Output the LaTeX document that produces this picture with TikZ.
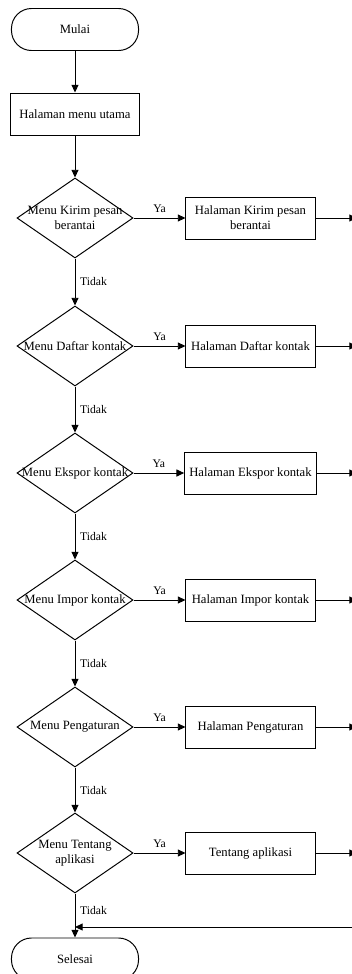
\documentclass[tikz,border=0pt]{standalone}
\usepackage{fontspec}
\setmainfont{Liberation Serif}
\usetikzlibrary{shapes.geometric,arrows.meta}

\begin{document}
\begin{tikzpicture}[x=0.025cm,y=-0.025cm,line width=0.7pt,font=\fontsize{9}{10.5}\selectfont,
	terminal/.style={draw,rounded corners=0.5cm,minimum width=3.175cm,minimum height=1.05cm},
	proses/.style={draw,minimum width=3.225cm,minimum height=1.05cm,align=center},
	keputusan/.style={draw,diamond,minimum width=2.9cm,minimum height=2cm,inner sep=0pt},
	panah/.style={-{Triangle[length=5.5pt,width=5pt]}},
	ket/.style={font=\fontsize{8.3}{10}\selectfont}]
	\useasboundingbox (0,0) rectangle (352,974);

	\node [terminal](mulai) at (75,29.5) {Mulai};
	\node [proses,minimum width=3.2cm](menu) at (75,114) {Halaman menu utama};
	\node [keputusan,label={[align=center]center:Menu Kirim pesan\\berantai}](d1) at (75,218) {};
	\node [keputusan,label=center:Menu Daftar kontak](d2) at (75,346) {};
	\node [keputusan,label=center:Menu Ekspor kontak](d3) at (75,473) {};
	\node [keputusan,label=center:Menu Impor kontak](d4) at (75,600) {};
	\node [keputusan,label=center:Menu Pengaturan](d5) at (75,727) {};
	\node [keputusan,label={[align=center]center:Menu Tentang\\aplikasi}](d6) at (75,853) {};
	\node [proses](h1) at (250.5,218) {Halaman Kirim pesan\\berantai};
	\node [proses](h2) at (250.5,346) {Halaman Daftar kontak};
	\node [proses](h3) at (250.5,473) {Halaman Ekspor kontak};
	\node [proses](h4) at (250.5,600) {Halaman Impor kontak};
	\node [proses](h5) at (250.5,727) {Halaman Pengaturan};
	\node [proses](h6) at (250.5,853) {Tentang aplikasi};
	\node [terminal](selesai) at (75,959) {Selesai};
	\coordinate (kanan) at (357,0);
	\coordinate (balik) at (360,927);
	\coordinate (gabung) at (75,927);

	\draw [panah] (mulai) -- (menu);
	\draw [panah] (menu) -- (d1);
	\draw [panah] (d1) -- (h1) node [midway,above,ket] {Ya};
	\draw [panah] (d2) -- (h2) node [midway,above,ket] {Ya};
	\draw [panah] (d3) -- (h3) node [midway,above,ket] {Ya};
	\draw [panah] (d4) -- (h4) node [midway,above,ket] {Ya};
	\draw [panah] (d5) -- (h5) node [midway,above,ket] {Ya};
	\draw [panah] (d6) -- (h6) node [midway,above,ket] {Ya};
	\draw [panah] (d1) -- (d2) node [midway,right,ket] {Tidak};
	\draw [panah] (d2) -- (d3) node [midway,right,ket] {Tidak};
	\draw [panah] (d3) -- (d4) node [midway,right,ket] {Tidak};
	\draw [panah] (d4) -- (d5) node [midway,right,ket] {Tidak};
	\draw [panah] (d5) -- (d6) node [midway,right,ket] {Tidak};
	\draw (d6) -- (gabung) node [midway,right,ket] {Tidak};
	\draw [panah] (gabung) -- (selesai);
	\draw [panah] (h1) -- (h1 -| kanan);
	\draw [panah] (h2) -- (h2 -| kanan);
	\draw [panah] (h3) -- (h3 -| kanan);
	\draw [panah] (h4) -- (h4 -| kanan);
	\draw [panah] (h5) -- (h5 -| kanan);
	\draw [panah] (h6) -- (h6 -| kanan);
	\draw [panah] (balik) -- (gabung);
\end{tikzpicture}
\end{document}
